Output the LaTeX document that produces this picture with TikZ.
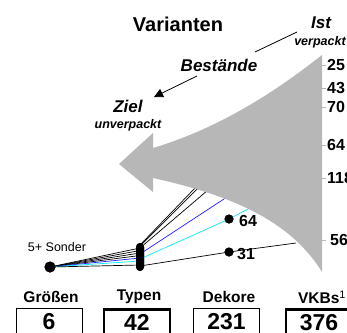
\documentclass[tikz,border=0pt]{standalone}
\usepackage{fontspec}
\setmainfont{Liberation Sans}
\usetikzlibrary{arrows.meta}
\definecolor{fangray}{RGB}{183,183,183}
\definecolor{fanblue}{RGB}{30,30,255}
\definecolor{fancyan}{RGB}{0,240,250}
\tikzset{
  fan/.style={line width=0.7pt},
  dot/.style={circle,fill=black,inner sep=0pt,minimum size=9pt},
  bigdot/.style={circle,fill=black,inner sep=0pt,minimum size=11pt},
  numlbl/.style={font=\fontsize{16}{18}\selectfont\bfseries,inner sep=0pt},
  headlbl/.style={font=\fontsize{15.5}{18}\selectfont\bfseries,inner sep=0pt},
  numbox/.style={draw,anchor=north,minimum height=40pt,inner sep=0pt,
    text height=16.5pt,text depth=15pt,font=\fontsize{23}{27}\selectfont\bfseries},
  tickg/.style={draw=fangray,line width=0.8pt}
}
\begin{document}
\begin{tikzpicture}[x=1pt,y=-1pt]
\useasboundingbox (0,0) rectangle (347,332);
\clip (0,0) rectangle (347,332);
\node[font=\fontsize{20}{24}\selectfont\bfseries] (varianten) at (178,24) {Varianten};
\node[font=\fontsize{17}{20}\selectfont\bfseries\itshape,inner sep=0pt] (ist) at (321,23) {Ist};
\node[font=\fontsize{12.5}{14}\selectfont\bfseries\itshape,inner sep=0pt] (verpackt) at (320,42) {verpackt};
\node[font=\fontsize{17}{20}\selectfont\bfseries\itshape,inner sep=0pt] (bestaende) at (219,65) {Bestände};
\node[font=\fontsize{17}{20}\selectfont\bfseries\itshape,inner sep=0pt] (ziel) at (128,106) {Ziel};
\node[font=\fontsize{12.5}{14}\selectfont\bfseries\itshape,inner sep=0pt] (unverpackt) at (128,125) {unverpackt};
\coordinate (istA) at (255,52);
\coordinate (istB) at (297,32);
\draw[line width=0.8pt] (istA) -- (istB);
\coordinate (bstA) at (197,76);
\coordinate (bstB) at (154,97);
\draw[line width=0.8pt,-{Triangle[length=9pt,width=9pt]}] (bstA) -- (bstB);
\node[font=\fontsize{12.5}{14}\selectfont,inner sep=0pt] (sonder) at (57,247) {5+ Sonder};
\node[bigdot] (sdot) at (50,267) {};
\node[fill=black,rounded corners=4pt,minimum width=8pt,minimum height=28pt,inner sep=0pt] (typbar) at (140,257) {};
\coordinate (e1) at (197,186);
\coordinate (e2) at (200,186);
\coordinate (e3) at (208,190);
\coordinate (e4) at (227,197);
\coordinate (e5) at (250,208);
\coordinate (e6) at (296,243);
\node[dot] (d64) at (229,219) {};
\node[dot] (d31) at (229,252) {};
\draw[fan] (sdot.center) -- ([yshift=9pt]typbar.center);
\draw[fan] (sdot.center) -- ([yshift=6.5pt]typbar.center);
\draw[fan] (sdot.center) -- ([yshift=4pt]typbar.center);
\draw[fan] (sdot.center) -- ([yshift=1.5pt]typbar.center);
\draw[fan,fanblue] (sdot.center) -- ([yshift=-1pt]typbar.center);
\draw[fan,fancyan] (sdot.center) -- ([yshift=-4pt]typbar.center);
\draw[fan] (sdot.center) -- ([yshift=-8pt]typbar.center);
\draw[fan] ([yshift=12pt]typbar.center) -- (e1);
\draw[fan] ([yshift=11pt]typbar.center) -- (e2);
\draw[fan] ([yshift=9pt]typbar.center) -- (e3);
\draw[fan,fanblue] ([yshift=3pt]typbar.center) -- (e4);
\draw[fan,fancyan] ([yshift=-2pt]typbar.center) -- (d64.center) -- (e5);
\draw[fan] ([yshift=-9pt]typbar.center) -- (d31.center) -- (e6);
\fill[fangray] (322,55) -- (322,272) .. controls (290,220) and (230,195) .. (153,178)
  -- (153,192) -- (119,164) -- (153,133) -- (153,148)
  .. controls (230,125) and (290,80) .. (322,55) -- cycle;
\node[fill=black,rounded corners=4pt,minimum width=8pt,minimum height=28pt,inner sep=0pt] at (typbar) {};
\node[bigdot] at (sdot) {};
\node[dot] at (d64) {};
\node[dot] at (d31) {};
\node[numlbl] (l64) at (248,221) {64};
\node[numlbl] (l31) at (246,254) {31};
\node[numlbl,anchor=west] (n25) at (327,65) {25};
\node[numlbl,anchor=west] (n43) at (327,88) {43};
\node[numlbl,anchor=west] (n70) at (327,107) {70};
\node[numlbl,anchor=west] (n64) at (327,145) {64};
\node[numlbl,anchor=west] (n118) at (327,178) {118};
\node[numlbl,anchor=west] (n56) at (330,240) {56};
\draw[tickg] ([xshift=-1pt]n25.west) -- ++(-4pt,0);
\draw[tickg] ([xshift=-1pt]n43.west) -- ++(-4pt,0);
\draw[tickg] ([xshift=-1pt]n70.west) -- ++(-4pt,0);
\draw[tickg] ([xshift=-1pt]n64.west) -- ++(-4pt,0);
\draw[tickg] ([xshift=-1pt]n118.west) -- ++(-4pt,0);
\draw[tickg] ([xshift=-4pt]n56.west) -- ++(-4pt,0);
\node[headlbl] (hgroessen) at (51,297) {Größen};
\node[headlbl] (htypen) at (139,297) {Typen};
\node[headlbl] (hdekore) at (229,297) {Dekore};
\node[headlbl] (hvkbs) at (322,297) {VKBs\textsuperscript{\mdseries 1}};
\node[numbox,line width=0.8pt,minimum width=66pt] (bgroessen) at (49,308) {6};
\node[numbox,line width=2.5pt,minimum width=66pt] (btypen) at (137,308) {42};
\node[numbox,line width=0.8pt,minimum width=66pt] (bdekore) at (226.5,308) {231};
\node[numbox,line width=2.5pt,minimum width=66pt] (bvkbs) at (319,308) {376};
\end{tikzpicture}
\end{document}
